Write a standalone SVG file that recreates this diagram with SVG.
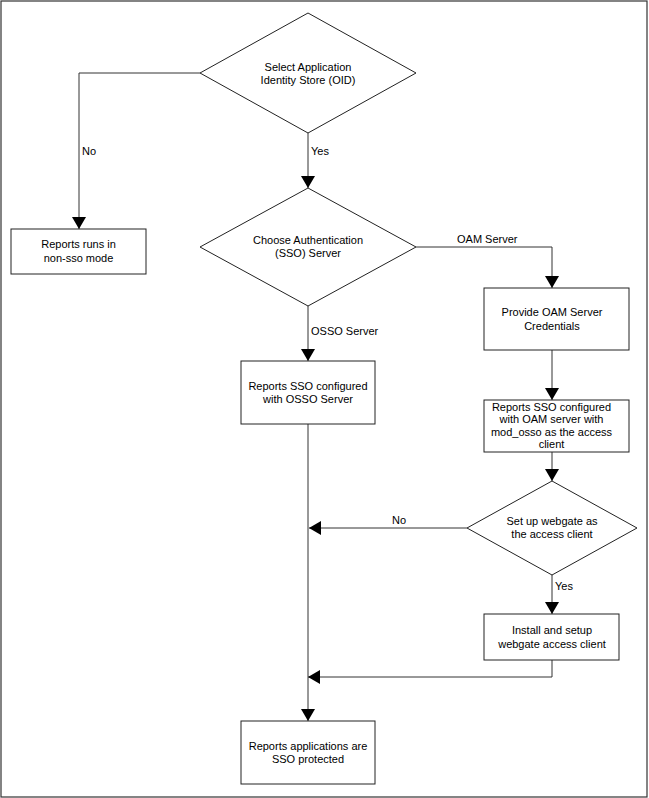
<svg xmlns="http://www.w3.org/2000/svg" width="649" height="798" viewBox="0 0 649 798">
<defs>
<style>
.n{fill:#fff;stroke:#222;stroke-width:1}
.t{font-family:"Liberation Sans",Arial,sans-serif;font-size:11px;fill:#000;text-anchor:middle}
.l{font-family:"Liberation Sans",Arial,sans-serif;font-size:11px;fill:#000}
.c{fill:none;stroke:#333;stroke-width:1;marker-end:url(#a)}
</style>
<marker id="a" markerUnits="userSpaceOnUse" markerWidth="12" markerHeight="14" refX="12" refY="7" orient="auto" viewBox="0 0 12 14">
<path d="M0,0 L12,7 L0,14 z" fill="#000"/>
</marker>
</defs>
<rect x="0" y="0" width="649" height="798" fill="#fff"/>
<rect x="1" y="1" width="646" height="796" fill="none" stroke="#333" stroke-width="1.2"/>
<g id="connectors">
<path class="c" d="M200,73 H79 V229"/>
<path class="c" d="M308,133 V188"/>
<path class="c" d="M416,247 H552 V288"/>
<path class="c" d="M308,306 V361"/>
<path class="c" d="M552,350 V400"/>
<path class="c" d="M552,452 V481"/>
<path class="c" d="M467,528 H309"/>
<path class="c" d="M552,575 V614"/>
<path class="c" d="M552,660 V677 H308"/>
<path class="c" d="M308,424 V721"/>
<text class="l" x="82" y="155">No</text>
<text class="l" x="311" y="155">Yes</text>
<text class="l" x="457" y="243">OAM Server</text>
<text class="l" x="311" y="335">OSSO Server</text>
<text class="t" x="399" y="524">No</text>
<text class="l" x="555" y="590">Yes</text>
</g>
<g id="d1">
<polygon class="n" points="308,13 416,73 308,133 200,73"/>
<text class="t" x="308" y="71">Select Application</text>
<text class="t" x="308" y="84">Identity Store (OID)</text>
</g>
<g id="b1">
<rect class="n" x="11" y="229" width="135" height="45"/>
<text class="t" x="78.5" y="248">Reports runs in</text>
<text class="t" x="78.5" y="261.5">non-sso mode</text>
</g>
<g id="d2">
<polygon class="n" points="308,188 416,247 308,306 200,247"/>
<text class="t" x="308" y="243.5">Choose Authentication</text>
<text class="t" x="308" y="257">(SSO) Server</text>
</g>
<g id="b2">
<rect class="n" x="484" y="288" width="145" height="62"/>
<text class="t" x="552" y="316">Provide OAM Server</text>
<text class="t" x="552" y="329.5">Credentials</text>
</g>
<g id="b3">
<rect class="n" x="241" y="361" width="134" height="63"/>
<text class="t" x="308" y="389.5">Reports SSO configured</text>
<text class="t" x="308" y="402.5">with OSSO Server</text>
</g>
<g id="b4">
<rect class="n" x="484" y="400" width="145" height="52"/>
<text class="t" x="551.5" y="410.5">Reports SSO configured</text>
<text class="t" x="551.5" y="423">with OAM server with</text>
<text class="t" x="551.5" y="435.5">mod_osso as the access</text>
<text class="t" x="551.5" y="448">client</text>
</g>
<g id="d3">
<polygon class="n" points="552,481 637,528 552,575 467,528"/>
<text class="t" x="552" y="525">Set up webgate as</text>
<text class="t" x="552" y="537.5">the access client</text>
</g>
<g id="b5">
<rect class="n" x="484" y="614" width="135" height="46"/>
<text class="t" x="552" y="634">Install and setup</text>
<text class="t" x="552" y="647.5">webgate access client</text>
</g>
<g id="b6">
<rect class="n" x="241" y="721" width="134" height="63"/>
<text class="t" x="308" y="749.5">Reports applications are</text>
<text class="t" x="308" y="763">SSO protected</text>
</g>
</svg>
